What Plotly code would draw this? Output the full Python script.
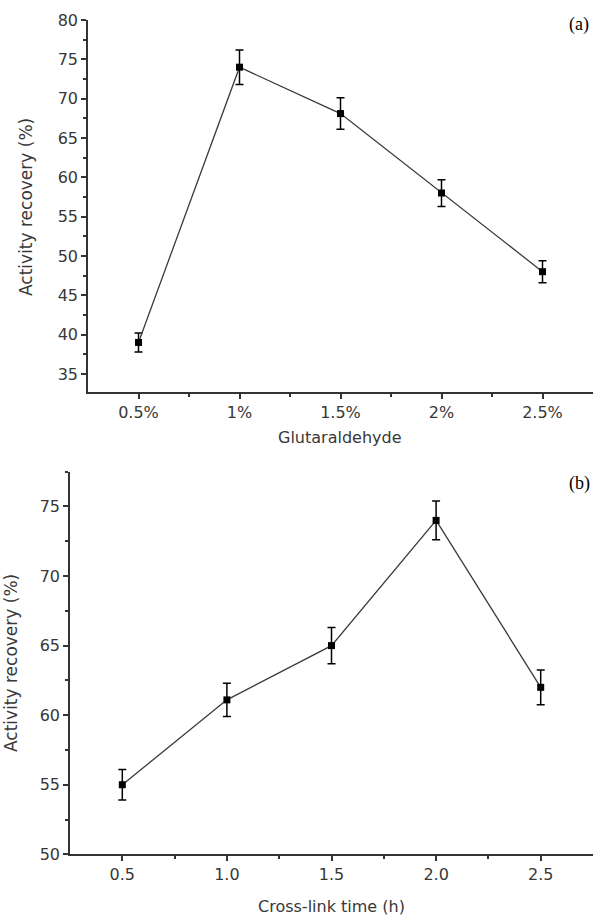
import plotly.graph_objects as go

# Panel (a): glutaraldehyde concentration
glut_x = [0.5, 1.0, 1.5, 2.0, 2.5]
glut_labels = ["0.5%", "1%", "1.5%", "2%", "2.5%"]
glut_y = [39.0, 74.0, 68.1, 58.0, 48.0]
glut_err = [1.2, 2.2, 2.0, 1.7, 1.4]

# Panel (b): cross-link time
time_x = [0.5, 1.0, 1.5, 2.0, 2.5]
time_labels = ["0.5", "1.0", "1.5", "2.0", "2.5"]
time_y = [55.0, 61.1, 65.0, 74.0, 62.0]
time_err = [1.1, 1.2, 1.3, 1.4, 1.25]

W, H = 594, 917
FONT = "DejaVu Sans, Arial, sans-serif"
TXT = "#383838"

fig = go.Figure()

def add_series(x, y, err, xa, ya):
    fig.add_trace(go.Scatter(
        x=x, y=y, xaxis=xa, yaxis=ya, mode="lines+markers",
        line=dict(color="#3a3a3a", width=1.3),
        marker=dict(symbol="square", size=7, color="black"),
        error_y=dict(type="data", array=err, visible=True,
                     color="black", thickness=1.5, width=4),
        showlegend=False, hoverinfo="skip"))

add_series(glut_x, glut_y, glut_err, "x", "y")
add_series(time_x, time_y, time_err, "x2", "y2")

def px_dom_x(a, b):
    return [a / W, b / W]

def px_dom_y(top, bottom):
    return [1 - bottom / H, 1 - top / H]

axis_common = dict(
    showline=True, linecolor="#333333", linewidth=1.5,
    ticks="outside", ticklen=5, tickwidth=1.5, tickcolor="#333333",
    showgrid=False, zeroline=False, mirror=False, automargin=False,
    tickfont=dict(family=FONT, size=16, color=TXT),
)

fig.update_layout(
    template="none",
    width=W, height=H,
    margin=dict(l=0, r=0, t=0, b=0, pad=0, autoexpand=False),
    paper_bgcolor="white", plot_bgcolor="white",
    xaxis=dict(domain=px_dom_x(88, 593), anchor="y", range=[0.25, 2.75],
               tickvals=glut_x, ticktext=glut_labels,
               minor=dict(tickvals=[0.75, 1.25, 1.75, 2.25], ticks="outside",
                          ticklen=3, tickcolor="#333333", tickwidth=1.5),
               **axis_common),
    yaxis=dict(domain=px_dom_y(20, 392), anchor="x", range=[32.7, 80],
               tickvals=[35, 40, 45, 50, 55, 60, 65, 70, 75, 80],
               minor=dict(dtick=2.5, ticks="outside", ticklen=3,
                          tickcolor="#333333", tickwidth=1.5),
               **axis_common),
    xaxis2=dict(domain=px_dom_x(70, 593), anchor="y2", range=[0.25, 2.75],
                tickvals=time_x, ticktext=time_labels,
                minor=dict(tickvals=[0.75, 1.25, 1.75, 2.25], ticks="outside",
                           ticklen=3, tickcolor="#333333", tickwidth=1.5),
                **axis_common),
    yaxis2=dict(domain=px_dom_y(471.7, 854.3), anchor="x2", range=[50, 77.5],
                tickvals=[50, 55, 60, 65, 70, 75],
                minor=dict(dtick=2.5, ticks="outside", ticklen=3,
                           tickcolor="#333333", tickwidth=1.5),
                **axis_common),
)

ann = []
def add_text(text, x, y, size, angle=0, family=FONT, color=TXT):
    ann.append(dict(text=text, x=x / W, y=1 - y / H, xref="paper", yref="paper",
                    showarrow=False, textangle=angle, xanchor="center",
                    yanchor="middle",
                    font=dict(family=family, size=size, color=color)))

SERIF = "Liberation Serif, Times New Roman, serif"
add_text("Activity recovery (%)", 26, 207, 17, angle=-90)
add_text("Glutaraldehyde", 340, 437, 16)
add_text("(a)", 579, 25, 18, family=SERIF, color="black")
add_text("Activity recovery (%)", 11, 663, 17, angle=-90)
add_text("Cross-link time (h)", 331, 906, 16)
add_text("(b)", 579, 483, 18, family=SERIF, color="black")
fig.update_layout(annotations=ann)

fig.write_html("out.html", config={"displayModeBar": False},
               post_script="document.body.style.margin='0';document.body.style.overflow='hidden';")
